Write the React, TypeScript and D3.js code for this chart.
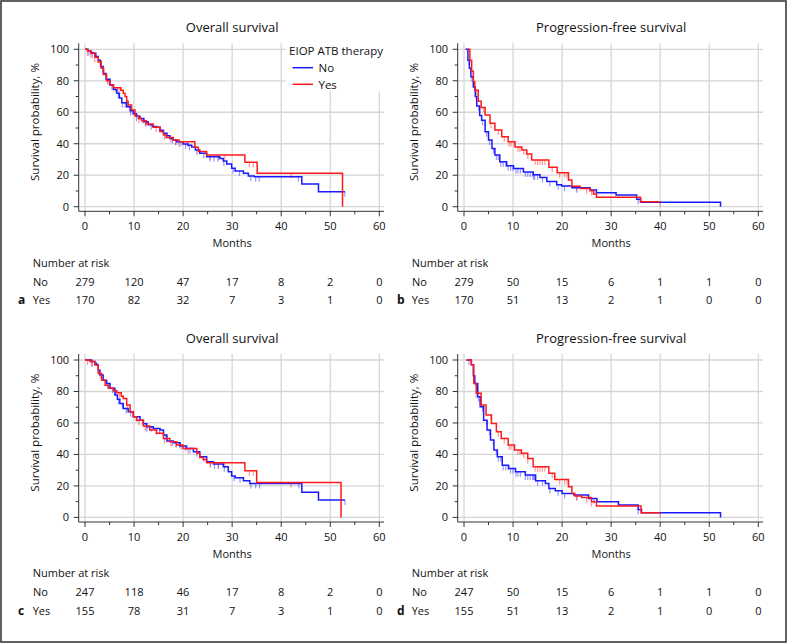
import React from "react";
import * as d3 from "d3";

// ---------- data ----------
const riskTicks = [0, 10, 20, 30, 40, 50, 60];
const xTicks = [0, 10, 20, 30, 40, 50, 60];
const xMinor = [5, 15, 25, 35, 45, 55];
const yTicks = [0, 20, 40, 60, 80, 100];
const yMinor = [10, 30, 50, 70, 90];
const groups = ["No", "Yes"];

// Overall survival (a)
const osANo: [number, number][] = [[0,100],[0.6,99],[1.2,98],[1.7,97.5],[2.2,95.5],[2.7,93],[3.2,89],[3.7,84.7],[4.3,81],[5.1,77.3],[5.8,74.5],[6.5,72],[7.0,69],[7.5,66],[8.5,63.5],[9.2,61],[9.85,59],[10.5,57.5],[11.2,56],[12.0,54],[12.9,52],[13.8,51],[14.6,50.4],[15.3,48.5],[16,46.6],[16.7,45],[17.3,43.4],[18,42.3],[18.7,41.3],[20,39.8],[21,39],[21.75,38],[22.5,36],[23.4,34],[24.8,31.8],[27.5,30.7],[28.2,29],[28.9,27.1],[29.9,24.4],[30.6,22.7],[32.3,21.2],[33.3,19.5],[34.5,19],[44.2,14.4],[47.6,9.5],[53,9.5]];
const osAYes: [number, number][] = [[0,100],[0.5,99],[1.2,97.5],[2,95],[2.7,92],[3.3,88],[3.8,84],[4.4,80],[5.0,77.5],[5.8,75.6],[7.3,74],[7.8,72],[8.15,70],[8.5,67],[8.8,64.6],[9.5,61.4],[10.2,57.6],[10.9,56],[11.55,54.6],[12.5,52.5],[13.9,50.4],[15.3,47.7],[16,45.5],[16.6,44],[18,42.4],[19.2,41.3],[22.4,37.7],[23.1,35],[24.8,32.8],[32.6,28.2],[35.1,21.2],[52.5,21.2],[52.5,0]];
const osANoCens = [0.8,1.5,4.6,5.5,6.8,7.6,8.2,9.3,10.5,11.8,12.4,13.5,15.2,16.5,17.8,18.5,19.2,20.5,21.3,22.8,24.2,25.5,26.3,27.1,28.3,30.2,31.5,33.8,34.8,35.5,43.5,53];
const osAYesCens = [0.5,1.2,2.0,3.1,6.2,6.9,8.6,9.8,11.0,12.3,14.5,16.2,17.5,18.5,19.6,21.0,25.5,27.2,28.5,33.5,34.3,42.0];

// Progression-free survival (b)
const pfsBNo: [number, number][] = [[0.3,100],[0.8,93],[1.1,88],[1.4,82.6],[1.9,76],[2.3,70],[2.6,64],[3.2,58],[3.6,55],[4.3,47.6],[5,42.4],[5.7,37],[6.3,32.8],[7.3,28.6],[8.7,26],[10.1,24.3],[12.1,22],[14.1,20.3],[15.5,18.5],[16.9,16],[18.9,14],[19.9,13.2],[22,12.1],[25.7,10.6],[27,8.9],[31,7.4],[35.2,4.7],[36,2.8],[52.3,2.8],[52.3,0]];
const pfsBYes: [number, number][] = [[0.7,100],[1.2,93],[1.56,86],[1.9,79.4],[2.2,74],[2.9,67],[3.5,63],[4.3,58.2],[5.3,53],[6.3,48.7],[7.7,44.5],[9.0,41.3],[10.4,38],[11.8,36],[12.8,33.5],[13.8,29.6],[17.3,25],[19,21.6],[21.3,17],[22,13],[23.7,11.6],[25.7,10.2],[26.4,8],[27,6],[36,3.2],[40,3.2]];
const pfsBNoCens = [1.0,1.6,2.5,3.0,3.8,4.6,5.2,6.0,6.6,7.0,7.5,8.0,8.5,9.0,9.5,10.0,10.6,11.0,11.5,12.5,13.0,13.5,14.0,14.2,14.4,15.0,16.0,17.5,19.2,20.5,23.0,26.5,35.5];
const pfsBYesCens = [2.5,4.0,5.5,7.0,8.2,9.2,9.6,10.2,11.0,11.4,12.2,13.0,14.5,15.0,15.5,16.0,16.5,18.0,19.5,20.5,21.0,23.0,25.0,26.0,40.0];

// Overall survival (c)
const osCNo: [number, number][] = [[0,100],[1.36,99],[2,98],[2.37,96.8],[2.7,93.5],[3.05,90.4],[3.7,87.2],[4.4,85.1],[5.1,82],[6.1,77.7],[6.6,75],[7.1,72.4],[7.8,69.2],[8.8,67.1],[9.85,64],[11.2,61.8],[11.9,59.5],[12.6,57.6],[13.9,56.5],[15.3,55.5],[16,52.3],[16.7,48.5],[18,47.4],[19.4,45.3],[20.7,43.8],[22.1,41.7],[23.4,38.5],[24.8,35.4],[26.2,33.9],[28.2,32.2],[29.2,29],[29.9,26.3],[30.6,25.2],[32.3,23.3],[33.6,21.6],[44.2,15.9],[47.6,11],[53,11]];
const osCYes: [number, number][] = [[0,100],[1,99],[2,96.8],[2.7,91.5],[3.4,87.2],[4.1,84],[4.8,82],[5.8,80.5],[6.5,79.2],[7.4,77],[7.8,75.6],[8.5,71.4],[9.2,67.1],[9.85,64],[10.5,61.8],[11.9,58],[13.2,55.5],[14.6,53.4],[16,50.2],[17.3,48.1],[18.7,46],[20,43.8],[22.8,40.7],[23.4,38.1],[24.1,36.8],[24.8,34.7],[32.6,29.6],[35,22.2],[52.2,22.2],[52.2,0]];
const osCNoCens = [1.5,4.6,5.6,6.8,7.6,8.4,9.3,10.6,11.8,12.6,13.5,15.2,16.5,17.8,18.6,19.3,20.5,21.4,22.8,24.2,25.6,26.4,27.2,28.4,30.4,31.6,33.8,34.8,35.6,43.6,53];
const osCYesCens = [0.5,1.3,3.1,6.2,7.0,8.6,9.8,11.0,12.3,14.5,16.2,17.5,18.5,19.6,21.0,25.5,27.2,28.5,33.5,34.3,42.0];

// Progression-free survival (d)
const pfsDNo: [number, number][] = [[0.5,100],[1.5,97],[1.9,90],[2.2,85],[2.8,76.7],[3.3,70.3],[4,61.8],[4.7,55.5],[5.4,49.1],[6.1,42.8],[6.8,38.5],[7.8,33.2],[9.1,31.1],[10.5,29],[12.5,26.9],[14.6,23.3],[16.6,21.6],[17.3,18.4],[18.6,16.9],[20,15.2],[22.4,14.2],[25.4,12],[27.1,10],[31.5,7.8],[35.5,5],[36.2,3],[52.3,3],[52.3,0]];
const pfsDYes: [number, number][] = [[0.5,100],[1.5,97],[2,85],[2.5,78.8],[3.5,71.4],[4.5,65],[5.6,59.7],[6.6,54.4],[7.6,50.2],[9,46],[10.3,42.8],[11.7,40.7],[13,37.5],[14.1,32.2],[17.3,28],[18.5,24.1],[21.3,19.5],[22,15.2],[22.6,13.6],[24,12.7],[26,10],[27,7.2],[36.1,3],[40,3]];
const pfsDNoCens = [1.0,2.5,3.0,3.8,4.6,5.2,6.0,6.6,7.0,7.5,8.0,8.5,9.0,9.5,10.0,10.6,11.0,11.5,12.5,13.0,13.5,14.0,14.2,14.4,15.0,16.0,17.5,19.2,20.5,23.0,26.5,35.5];
const pfsDYesCens = [2.5,4.0,5.5,7.0,8.2,9.2,9.6,10.2,11.0,11.4,12.2,13.0,14.5,15.0,15.5,16.0,16.5,18.0,19.5,20.5,21.0,23.0,25.0,26.0,40.0];

const riskANo = [279, 120, 47, 17, 8, 2, 0];
const riskAYes = [170, 82, 32, 7, 3, 1, 0];
const riskBNo = [279, 50, 15, 6, 1, 1, 0];
const riskBYes = [170, 51, 13, 2, 1, 0, 0];
const riskCNo = [247, 118, 46, 17, 8, 2, 0];
const riskCYes = [155, 78, 31, 7, 3, 1, 0];
const riskDNo = [247, 50, 15, 6, 1, 1, 0];
const riskDYes = [155, 51, 13, 2, 1, 0, 0];

// ---------- styles ----------
const FONT = "'Open Sans', 'Noto Sans', sans-serif";
const BLUE = "#1a1aff";
const RED = "#ff1a1a";
const GRID = "#d6d6d6";
const TXT = "#111";

function stepAt(pts: [number, number][], t: number): number {
  let v = pts[0][1];
  for (const p of pts) {
    if (p[0] <= t) v = p[1];
    else break;
  }
  return v;
}

type PanelProps = {
  px0: number;
  py: number;
  title: string;
  letter: string;
  no: [number, number][];
  yes: [number, number][];
  noCens: number[];
  yesCens: number[];
  riskNo: number[];
  riskYes: number[];
  legend?: boolean;
};

function Panel(p: PanelProps) {
  const x = d3.scaleLinear().domain([0, 60]).range([p.px0, p.px0 + 294.3]);
  const y = d3.scaleLinear().domain([0, 100]).range([p.py + 206.7, p.py + 49.3]);
  const axX = p.px0 - 6.3;
  const top = p.py + 43.3;
  const bot = p.py + 211.3;
  const right = p.px0 + 299;
  const line = d3
    .line<[number, number]>()
    .x((d) => x(d[0]))
    .y((d) => y(d[1]))
    .curve(d3.curveStepAfter);
  const cx = x(30);

  const cens = (pts: [number, number][], times: number[], color: string) =>
    times.map((t, i) => {
      const v = stepAt(pts, t);
      return (
        <line
          key={i}
          x1={x(t)}
          x2={x(t)}
          y1={y(v)}
          y2={y(v) + 5}
          stroke={color}
          strokeOpacity={0.45}
          strokeWidth={1.2}
        />
      );
    });

  return (
    <g fontFamily={FONT} fill={TXT}>
      <text x={cx} y={p.py + 32} textAnchor="middle" fontSize={13} fontWeight={500}>
        {p.title}
      </text>
      {/* grid */}
      {xTicks.map((t) => (
        <line key={"gx" + t} x1={x(t)} x2={x(t)} y1={top} y2={bot} stroke={GRID} strokeWidth={1.3} />
      ))}
      {yTicks.map((t) => (
        <line key={"gy" + t} x1={axX} x2={right} y1={y(t)} y2={y(t)} stroke={GRID} strokeWidth={1.3} />
      ))}
      {p.legend && (
        <g>
          <rect x={x(41)} y={top - 1} width={right - x(41) + 2} height={49} fill="#fff" />
          <text x={x(41.6)} y={p.py + 55} fontSize={11.5}>EIOP ATB therapy</text>
          <line x1={x(42.3)} x2={x(46.5)} y1={p.py + 67.7} y2={p.py + 67.7} stroke={BLUE} strokeWidth={1.5} />
          <text x={x(47.6)} y={p.py + 72} fontSize={11.5}>{groups[0]}</text>
          <line x1={x(42.3)} x2={x(46.5)} y1={p.py + 84.3} y2={p.py + 84.3} stroke={RED} strokeWidth={1.5} />
          <text x={x(47.6)} y={p.py + 88.7} fontSize={11.5}>{groups[1]}</text>
        </g>
      )}
      {/* axes */}
      <line x1={axX} x2={axX} y1={top} y2={bot} stroke="#333" strokeWidth={1} />
      <line x1={axX} x2={right} y1={bot} y2={bot} stroke="#333" strokeWidth={1} />
      {yTicks.map((t) => (
        <g key={"yt" + t}>
          <line x1={axX - 5} x2={axX} y1={y(t)} y2={y(t)} stroke="#333" />
          <text x={p.px0 - 16} y={y(t)} dy="0.35em" textAnchor="end" fontSize={11}>
            {t}
          </text>
        </g>
      ))}
      {yMinor.map((t) => (
        <line key={"ym" + t} x1={axX - 3} x2={axX} y1={y(t)} y2={y(t)} stroke="#333" />
      ))}
      {xTicks.map((t) => (
        <g key={"xt" + t}>
          <line x1={x(t)} x2={x(t)} y1={bot} y2={bot + 5} stroke="#333" />
          <text x={x(t)} y={p.py + 230} textAnchor="middle" fontSize={11}>
            {t}
          </text>
        </g>
      ))}
      {xMinor.map((t) => (
        <line key={"xm" + t} x1={x(t)} x2={x(t)} y1={bot} y2={bot + 3} stroke="#333" />
      ))}
      <text x={cx} y={p.py + 247} textAnchor="middle" fontSize={11}>Months</text>
      <text
        transform={`translate(${p.px0 - 46},${p.py + 122}) rotate(-90)`}
        textAnchor="middle"
        fontSize={11.5}
      >
        Survival probability, %
      </text>
      {/* curves */}
      {cens(p.no, p.noCens, BLUE)}
      {cens(p.yes, p.yesCens, RED)}
      <path d={line(p.no) || ""} fill="none" stroke={BLUE} strokeWidth={1.5} />
      <path d={line(p.yes) || ""} fill="none" stroke={RED} strokeWidth={1.5} />
      {/* risk table */}
      <g fontSize={11}>
        <text x={p.px0 - 52.3} y={p.py + 266.7}>Number at risk</text>
        <text x={p.px0 - 52} y={p.py + 285.7}>{groups[0]}</text>
        <text x={p.px0 - 52.3} y={p.py + 304.3}>{groups[1]}</text>
        <text x={p.px0 - 67} y={p.py + 304.3} fontWeight="bold" fontSize={12}>
          {p.letter}
        </text>
        {riskTicks.map((t, i) => (
          <text key={"rn" + t} x={x(t)} y={p.py + 285.7} textAnchor="middle">
            {p.riskNo[i]}
          </text>
        ))}
        {riskTicks.map((t, i) => (
          <text key={"ry" + t} x={x(t)} y={p.py + 304.3} textAnchor="middle">
            {p.riskYes[i]}
          </text>
        ))}
      </g>
    </g>
  );
}

export default function App() {
  return (
    <svg
      width={787}
      height={643}
      style={{ position: "absolute", left: 0, top: 0, background: "#fff" }}
    >
      <rect x={0} y={0} width={787} height={643} fill="#fff" />
      <rect x={1} y={1} width={785} height={641} fill="none" stroke="#3a3a3a" strokeWidth={1.6} />
      <Panel px0={85} py={0} title="Overall survival" letter="a" no={osANo} yes={osAYes}
        noCens={osANoCens} yesCens={osAYesCens} riskNo={riskANo} riskYes={riskAYes} legend />
      <Panel px0={464} py={0} title="Progression-free survival" letter="b" no={pfsBNo} yes={pfsBYes}
        noCens={pfsBNoCens} yesCens={pfsBYesCens} riskNo={riskBNo} riskYes={riskBYes} />
      <Panel px0={85} py={310.7} title="Overall survival" letter="c" no={osCNo} yes={osCYes}
        noCens={osCNoCens} yesCens={osCYesCens} riskNo={riskCNo} riskYes={riskCYes} />
      <Panel px0={464} py={310.7} title="Progression-free survival" letter="d" no={pfsDNo} yes={pfsDYes}
        noCens={pfsDNoCens} yesCens={pfsDYesCens} riskNo={riskDNo} riskYes={riskDYes} />
    </svg>
  );
}
